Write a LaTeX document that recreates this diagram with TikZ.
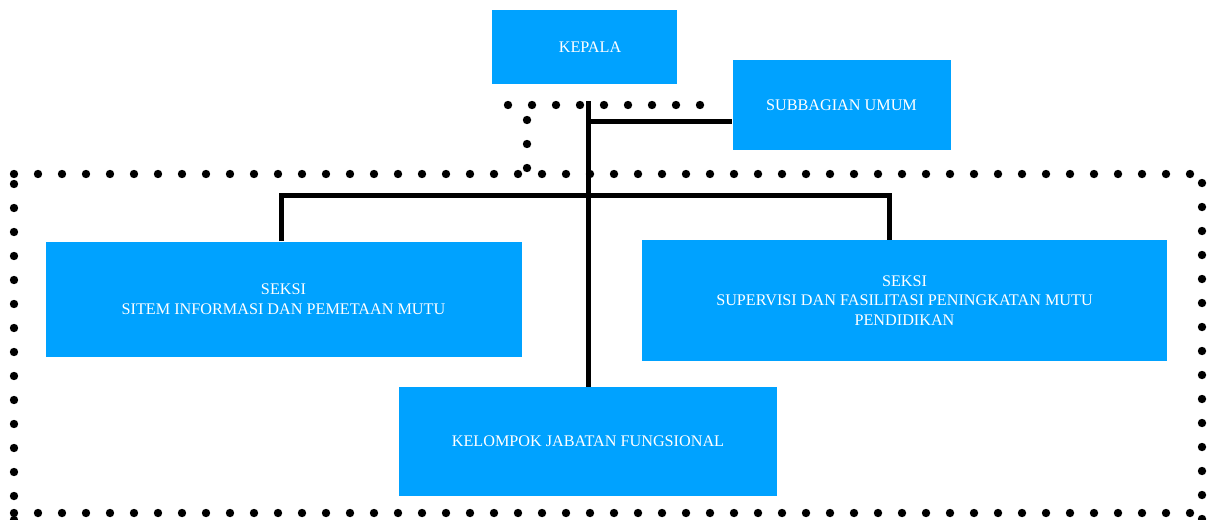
\documentclass[tikz,border=0pt]{standalone}
\usepackage{fontspec}
\setmainfont{Liberation Serif}
\usetikzlibrary{calc}
\definecolor{boxblue}{HTML}{00A2FF}
\begin{document}
\begin{tikzpicture}[x=1pt,y=-1pt,
  orgbox/.style={fill=boxblue,draw=none,inner sep=0pt,text=white,align=center,
    font=\fontsize{16.2}{19.5}\selectfont},
  conn/.style={line width=5pt,draw=black},
  dot/.style={fill=black}]
\useasboundingbox (0,0) rectangle (1214,519);
% boxes
\node[orgbox,minimum width=185pt,minimum height=74pt] (kep) at (584.5,47) {\hspace*{11pt}KEPALA};
\node[orgbox,minimum width=218pt,minimum height=90pt] (sub) at (841.5,105) {SUBBAGIAN UMUM};
\node[orgbox,minimum width=476pt,minimum height=115pt] (sl) at (283.5,299) {SEKSI\\SITEM INFORMASI DAN PEMETAAN MUTU};
\node[orgbox,minimum width=525pt,minimum height=121pt] (sr) at (904.5,300.5) {SEKSI\\SUPERVISI DAN FASILITASI PENINGKATAN MUTU\\PENDIDIKAN};
\node[orgbox,minimum width=378pt,minimum height=109pt] (kjf) at (588,441.5) {KELOMPOK JABATAN FUNGSIONAL};
% dotted frame
\foreach \i in {0,...,49} {
  \fill[dot] (14+24*\i,174) circle (4.2);
  \fill[dot] (14+24*\i,513) circle (4.2);
}
\foreach \j in {0,...,13} {
  \fill[dot] (14,184+24*\j) circle (4.2);
  \fill[dot] (1202,183+24*\j) circle (4.2);
}
\fill[dot] (14,520) circle (4.2);
\fill[dot] (1202,519) circle (4.2);
% small dotted path
\foreach \i in {0,...,8} {\fill[dot] (508+24*\i,105) circle (4.2);}
\foreach \j in {0,...,2} {\fill[dot] (527,120+24*\j) circle (4.2);}
% connectors
\coordinate (ktop) at (588,101);
\coordinate (sj) at (588,121);
\coordinate (bl) at (281,195.5);
\coordinate (br) at (889,195.5);
\draw[conn] (ktop) -- (kjf.north);
\draw[conn] (sj) -- (sj -| sub.west);
\draw[conn,line join=miter] (sl.north -| bl) -- (bl) -- (br) -- (sr.north -| br);
\end{tikzpicture}
\end{document}
